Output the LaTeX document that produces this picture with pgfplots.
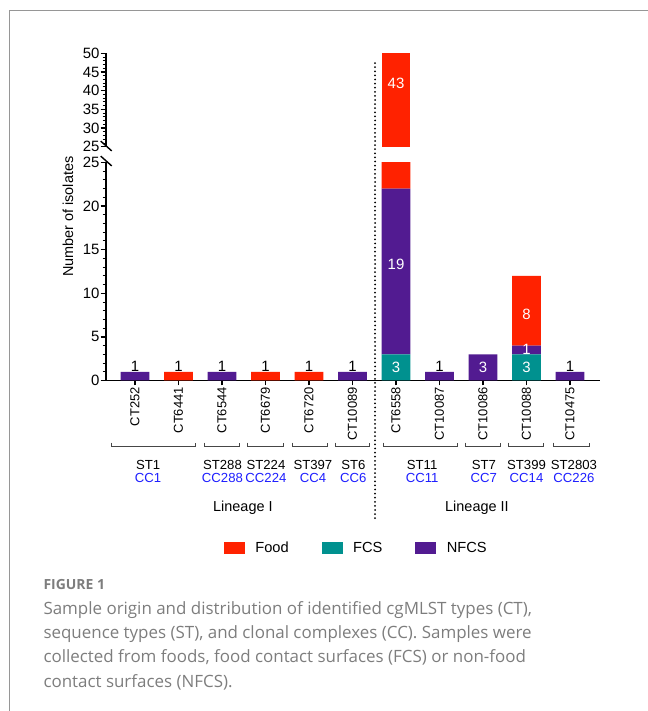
\documentclass[border=0pt]{standalone}
\usepackage{pgfplots}
\usepackage{pgfplotstable}
\pgfplotsset{compat=1.18}
\usepackage{fontspec}
\setmainfont{Liberation Sans}
\newfontfamily\capfont{Open Sans}
\definecolor{foodc}{RGB}{255,34,0}
\definecolor{fcsc}{RGB}{0,145,143}
\definecolor{nfcsc}{RGB}{82,27,145}
\definecolor{ccblue}{RGB}{30,30,255}
\definecolor{capgray}{RGB}{125,125,125}
\definecolor{framegray}{RGB}{150,150,150}
\definecolor{brkgray}{RGB}{70,70,70}

\pgfplotstableread{
x fcs nfcs food
0 0 1 0
1 0 0 1
2 0 1 0
3 0 0 1
4 0 0 1
5 0 1 0
6 3 19 43
7 0 1 0
8 0 3 0
9 3 1 8
10 0 1 0
}\datatable

\pgfplotstableread{
x fcs nfcs food
6 3 19 43
}\uppertable

\newcommand\vfont{\fontsize{15}{15}\selectfont}
\newcommand\stfont{\fontsize{13.2}{13.2}\selectfont}
\newcommand\brk[2]{\draw[brkgray, line width=0.9bp] (axis cs:#1,-7.13) -- (axis cs:#1,-7.59) -- (axis cs:#2,-7.59) -- (axis cs:#2,-7.13);}
\newcommand\stcc[3]{\node[anchor=base, font=\stfont, inner sep=0pt] at (axis cs:#1,-10.15) {#2};\node[anchor=base, font=\stfont, text=ccblue, inner sep=0pt] at (axis cs:#1,-11.67) {#3};}

\pgfplotsset{
 common/.style={
  scale only axis, width=494.3bp,
  xmin=-0.674, xmax=10.689,
  ybar stacked, bar width=28.6bp,
  axis line style={line width=1.8bp, black},
  tick align=outside,
  major tick length=5bp, minor tick length=3bp,
  major tick style={line width=1.3bp, black},
  minor tick style={line width=1bp, black},
  /pgf/number format/assume math mode=true,
  yticklabel style={font=\fontsize{15}{15}\selectfont, inner sep=1bp},
 }
}

\begin{document}
\begin{tikzpicture}
\useasboundingbox (0,0) rectangle (648bp,711bp);
\draw[framegray, line width=1bp] (9.3bp,0) -- (9.3bp,700.5bp) -- (648bp,700.5bp);

% lower axis
\begin{axis}[common, at={(105.7bp,330.5bp)}, anchor=south west, height=218bp,
  clip mode=individual,
  ymin=0, ymax=25, ytick={0,5,...,25}, minor y tick num=4,
  axis x line*=bottom, axis y line*=left,
  xtick={0,...,10},
  xticklabels={CT252,CT6441,CT6544,CT6679,CT6720,CT10089,CT6558,CT10087,CT10086,CT10088,CT10475},
  xticklabel style={rotate=90, anchor=east, font=\fontsize{13}{13}\selectfont, inner sep=1.5bp},
  legend style={draw=none, fill=none, inner sep=0pt, outer sep=0pt, legend columns=3,
    font=\fontsize{14.7}{14.7}\selectfont, nodes={inner sep=0pt}, cells={anchor=west},
    /tikz/every odd column/.append style={column sep=11bp},
    /tikz/every even column/.append style={column sep=33bp},
    at={(0.2393,-0.768)}, anchor=west},
]
\addlegendimage{legend image code/.code={\fill[foodc] (0bp,-5.35bp) rectangle (20bp,5.35bp);}}
\addlegendentry{Food}
\addlegendimage{legend image code/.code={\fill[fcsc] (0bp,-5.35bp) rectangle (20bp,5.35bp);}}
\addlegendentry{FCS}
\addlegendimage{legend image code/.code={\fill[nfcsc] (0bp,-5.35bp) rectangle (20bp,5.35bp);}}
\addlegendentry{NFCS}
\addplot[fill=fcsc, draw=none, forget plot] table[x=x,y=fcs]{\datatable};
\addplot[fill=nfcsc, draw=none, forget plot] table[x=x,y=nfcs]{\datatable};
\addplot[fill=foodc, draw=none, forget plot] table[x=x,y=food]{\datatable};

\pgfplotsinvokeforeach{0,1,2,3,4,5,7,10}{\node[anchor=south, inner sep=0.5bp, font=\vfont] at (axis cs:#1,1) {1};}
\coordinate (w19) at (axis cs:6,13.36);
\coordinate (w3a) at (axis cs:6,1.47);
\coordinate (w3b) at (axis cs:8,1.47);
\coordinate (w3c) at (axis cs:9,1.47);
\coordinate (w1) at (axis cs:9,3.58);
\coordinate (w8) at (axis cs:9,7.63);

\brk{-0.536}{1.379}
\brk{1.59}{2.40}
\brk{2.59}{3.41}
\brk{3.61}{4.42}
\brk{4.61}{5.40}
\brk{5.71}{7.41}
\brk{7.59}{8.41}
\brk{8.58}{9.40}
\brk{9.62}{10.44}
\stcc{0.30}{ST1}{CC1}
\stcc{2.01}{ST288}{CC288}
\stcc{3.01}{ST224}{CC224}
\stcc{4.09}{ST397}{CC4}
\stcc{5.02}{ST6}{CC6}
\stcc{6.60}{ST11}{CC11}
\stcc{8.02}{ST7}{CC7}
\stcc{9.00}{ST399}{CC14}
\stcc{10.09}{ST2803}{CC226}
\node[anchor=base, font=\fontsize{14.5}{14.5}\selectfont, inner sep=0pt] at (axis cs:2.48,-15.05) {Lineage I};
\node[anchor=base, font=\fontsize{14.5}{14.5}\selectfont, inner sep=0pt] at (axis cs:7.86,-15.05) {Lineage II};
\draw[line width=2bp, line cap=round, dash pattern=on 0bp off 4.1bp] (axis cs:5.517,36.4) -- (axis cs:5.517,-16.2);
\end{axis}

% upper axis
\begin{axis}[common, at={(105.7bp,564.2bp)}, anchor=south west, height=93.5bp,
  ymin=25, ymax=50, ytick={25,30,...,50}, minor y tick num=4,
  axis x line=none, axis y line*=left, xtick=\empty]
\addplot[fill=fcsc, draw=none] table[x=x,y=fcs]{\uppertable};
\addplot[fill=nfcsc, draw=none] table[x=x,y=nfcs]{\uppertable};
\addplot[fill=foodc, draw=none] table[x=x,y=food]{\uppertable};
\coordinate (w43) at (axis cs:6,42);
\end{axis}

% white value labels inside the segments
\begin{scope}[every node/.style={text=white, font=\vfont, inner sep=0pt}]
\node at (w19) {19};
\node at (w3a) {3};
\node at (w3b) {3};
\node at (w3c) {3};
\node at (w1) {1};
\node at (w8) {8};
\node at (w43) {43};
\end{scope}

% axis break marks
\draw[line width=1.4bp] (100.7bp,569.9bp) -- (111.7bp,560.1bp);
\draw[line width=1.4bp] (100.7bp,554.9bp) -- (111.7bp,545.1bp);

\node[rotate=90, font=\fontsize{14.5}{14.5}\selectfont, inner sep=0pt] at (68bp,494.3bp) {Number of isolates};

% caption
\node[anchor=base west, inner sep=0pt, text=capgray, font=\capfont\bfseries\fontsize{14}{14}\selectfont] at (43.3bp,121bp) {FIGURE 1};
\begin{scope}[every node/.style={anchor=base west, inner sep=0pt, text=capgray, font=\capfont\fontsize{17}{17}\selectfont}]
\node at (43.3bp,96bp) {Sample origin and distribution of identified cgMLST types (CT),};
\node at (43.3bp,72bp) {sequence types (ST), and clonal complexes (CC). Samples were};
\node at (43.3bp,48bp) {collected from foods, food contact surfaces (FCS) or non-food};
\node at (43.3bp,24bp) {contact surfaces (NFCS).};
\end{scope}
\end{tikzpicture}
\end{document}
